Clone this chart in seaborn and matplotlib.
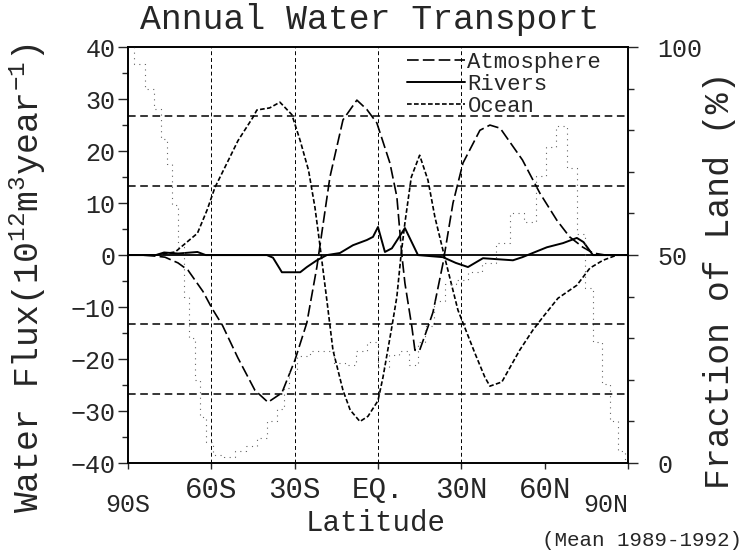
import matplotlib
matplotlib.use("Agg")
import pandas as pd
import seaborn as sns
import matplotlib.pyplot as plt
from matplotlib.ticker import MultipleLocator
from matplotlib.lines import Line2D

# --- data (latitude in degrees, south negative) ---
atm_lat = [-90, -85, -80, -76.7, -72, -68.4, -63, -59.8, -56, -50.4, -44.3, -39.6, -34.6,
           -29.9, -25.6, -22, -17.3, -12.6, -7.6, -4, -0.4, 4.3, 6.8, 8.6, 9.7, 12.2, 13.3,
           15, 18, 19.8, 23.4, 27, 30.6, 36.7, 40.3, 44, 52, 58.3, 64.4, 69, 73.8, 77.4, 82, 90]
atm_flux = [0, 0, -0.2, -0.4, -1.5, -2.9, -7, -10.2, -13.5, -19.8, -26, -28.3, -26.5,
            -20.2, -13, -2.3, 15, 26, 29.8, 28, 25.4, 17.7, 11.2, 0, -5.4, -13.8, -18.3,
            -18.3, -13.8, -11, -1.6, 10, 17.7, 24, 25, 24.4, 18.3, 11.9, 6.7, 3.5, 1.5, 0.4, 0, 0]

riv_lat = [-90, -80, -77, -72, -65, -62, -40, -37.8, -35.5, -34.6, -28, -25.6, -22, -18.4,
           -13.7, -9, -4, -1.8, 0, 2.5, 5, 9.7, 14.4, 23.4, 28, 32.4, 37.8, 48.6, 52, 60.8,
           66.6, 71.6, 74, 77.4, 90]
riv_flux = [0, 0, 0.5, 0.3, 0.6, 0, 0, -0.5, -2.5, -3.3, -3.3, -2.3, -1, 0,
            0.4, 1.9, 2.9, 3.5, 5.4, 0.6, 1.3, 5.2, 0, -0.4, -1.5, -2.3, -0.6, -1, -0.4, 1.5,
            2.3, 3.3, 2.5, 0, 0]

ocn_lat = [-90, -80, -73, -65, -61.5, -58.7, -55, -50.4, -45, -43.6, -39, -35.3, -31, -28,
           -25, -22.7, -21, -18.4, -16.2, -12.6, -10, -6.5, -3.6, 0, 1.8, 5, 6.8, 8.3, 9.7,
           12, 15, 18, 20.5, 24, 28.8, 35, 38.5, 40.3, 44.6, 51, 55.8, 59.4, 64.8, 71.6,
           76.3, 81, 86, 90]
ocn_flux = [0, 0, 0.6, 4.2, 8.7, 13, 17, 22, 26.5, 27.9, 28.3, 29.4, 27, 22,
            16.3, 9.2, 2.3, -8.7, -18.3, -26, -29.8, -32, -31, -28, -23.5, -13.8, -8, 0, 6.2,
            15, 19.2, 14.4, 7.3, -0.4, -10.6, -19, -23.5, -25.2, -24.4, -18.3, -14.4, -11.9, -8.3, -5.8,
            -2.5, -1, 0, 0]

land_lat = [-90, -86, -82, -79, -77, -75, -73, -71, -69, -67, -65, -63, -61, -58, -53, -50,
            -45, -42, -38, -35, -33, -31, -27, -22, -18, -14, -10, -6, -2, 2, 6, 9, 13, 16,
            18, 22, 26, 30, 35, 40, 45, 50, 55, 59, 62, 66, 70, 73, 76, 79, 82, 85, 88, 90]
land_pct = [100, 96, 90, 85, 78, 72, 62, 52, 40, 30, 20, 11, 5, 2, 1.5, 3,
            4, 6, 10, 13, 18, 22, 25.7, 27, 27, 24, 23.5, 27, 29, 23, 26, 27, 23.5, 29,
            33, 39, 43, 44, 46, 48, 53, 60, 58, 69, 76, 81, 71, 55, 42, 29, 19, 10, 3, 0]

lat_ticks = [-90, -60, -30, 0, 30, 60, 90]
lat_labels = ["", "60S", "30S", "EQ.", "30N", "60N", ""]

sns.set_style("ticks")
plt.rcParams["font.family"] = ["Liberation Mono", "DejaVu Sans Mono"]
plt.rcParams["mathtext.fontset"] = "custom"
plt.rcParams["mathtext.rm"] = "Liberation Mono"
plt.rcParams["mathtext.it"] = "Liberation Mono"
plt.rcParams["mathtext.default"] = "rm"

fig = plt.figure(figsize=(7.45, 5.5), dpi=100)
ax = fig.add_axes([0.1718, 0.158, 0.6711, 0.7564])
ax2 = ax.twinx()

atm_df = pd.DataFrame({"lat": atm_lat, "flux": atm_flux})
riv_df = pd.DataFrame({"lat": riv_lat, "flux": riv_flux})
ocn_df = pd.DataFrame({"lat": ocn_lat, "flux": ocn_flux})
land_df = pd.DataFrame({"lat": land_lat, "pct": land_pct})

# fraction of land, faint dotted steps on the right axis
sns.lineplot(data=land_df, x="lat", y="pct", ax=ax2, color="0.4", lw=0.8,
             linestyle=(0, (1, 4)), drawstyle="steps-mid", estimator=None, sort=False)
ax2.set_ylim(0, 100)
for k in [1, 2, 4, 5]:
    ax2.axhline(100 * k / 6, color="black", lw=1.1, linestyle=(0, (5, 3)))

# fluxes
atm_style = (0, (7, 2.5))
ocn_style = (0, (2.8, 1.4))
sns.lineplot(data=atm_df, x="lat", y="flux", ax=ax, color="black", lw=1.2,
             linestyle=atm_style, estimator=None, sort=False)
sns.lineplot(data=riv_df, x="lat", y="flux", ax=ax, color="black", lw=1.4,
             estimator=None, sort=False)
sns.lineplot(data=ocn_df, x="lat", y="flux", ax=ax, color="black", lw=1.2,
             linestyle=ocn_style, estimator=None, sort=False)
ax.axhline(0, color="black", lw=1.3)
for x in [-60, -30, 0, 30]:
    ax.axvline(x, color="black", lw=0.7, linestyle=(0, (4, 3)))

ax.set_xlim(-90, 90)
ax.set_ylim(-40, 40)
ax.set_xticks(lat_ticks)
ax.set_xticklabels(lat_labels, fontsize=21)
ax.yaxis.set_major_locator(MultipleLocator(10))
ax.yaxis.set_minor_locator(MultipleLocator(5))
ax.tick_params(axis="y", which="major", direction="out", length=7, width=1, labelsize=18, pad=2)
ax.tick_params(axis="y", which="minor", direction="out", length=4, width=1)
ax.tick_params(axis="x", direction="out", length=4, width=1, pad=5)
ax.set_xlabel("")
ax.set_ylabel("")

ax2.set_yticks([0, 50, 100])
ax2.yaxis.set_minor_locator(MultipleLocator(10))
ax2.tick_params(axis="y", which="major", direction="out", length=7, width=1, labelsize=18, pad=14)
ax2.tick_params(axis="y", which="minor", direction="out", length=4, width=1)
ax2.set_ylabel("")

for a in (ax, ax2):
    for s in a.spines.values():
        s.set_visible(True)
        s.set_linewidth(1.2)
        s.set_color("black")

# 90S / 90N sit below the other latitude labels
ax.text(-90, -0.1, "90S", transform=ax.get_xaxis_transform(), ha="center", va="center", fontsize=18)
ax.text(90, -0.1, "90N", transform=ax.get_xaxis_transform(), ha="right", va="center", fontsize=18)

handles = [Line2D([], [], color="black", lw=1.2, linestyle=atm_style),
           Line2D([], [], color="black", lw=1.4),
           Line2D([], [], color="black", lw=1.2, linestyle=ocn_style)]
ax.legend(handles, ["Atmosphere", "Rivers", "Ocean"], loc="upper left",
          bbox_to_anchor=(0.55, 1.0), frameon=False, fontsize=16, handlelength=2.6,
          handletextpad=0.1, labelspacing=0.05, borderaxespad=0.1, borderpad=0.1)

fig.text(370 / 745, 1 - 20 / 550, "Annual Water Transport", ha="center", va="center", fontsize=25)
fig.text(28 / 745, 1 - 278 / 550, "Water Flux(10$^{12}$m$^{3}$year$^{-1}$)", rotation=90,
         ha="center", va="center", fontsize=25)
fig.text(720 / 745, 1 - 280 / 550, "Fraction of Land (%)", rotation=90,
         ha="center", va="center", fontsize=25)
fig.text(376 / 745, 1 - 523 / 550, "Latitude", ha="center", va="center", fontsize=21)
fig.text(742 / 745, 1 - 541 / 550, "(Mean 1989-1992)", ha="right", va="center", fontsize=15)

fig.savefig("out.png", dpi=100)
